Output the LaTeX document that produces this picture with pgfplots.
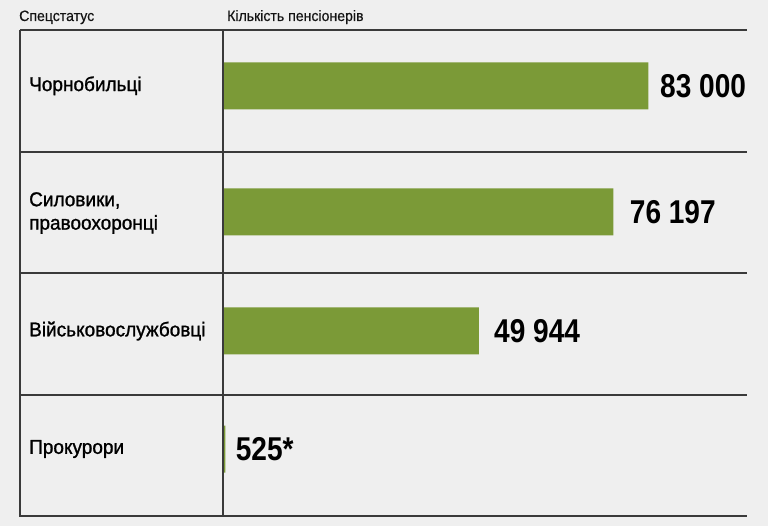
\documentclass[border=0pt]{standalone}
\usepackage{pgfplots}
\pgfplotsset{compat=1.18}
\usepackage{fontspec}
\setmainfont{Liberation Sans}
\newfontfamily\numfont[FakeStretch=0.85]{Liberation Sans Bold}
\newfontfamily\labfont[FakeStretch=0.95, FakeBold=1.1]{Liberation Sans}
\newfontfamily\hdfont[FakeStretch=0.94, FakeBold=0.5]{Liberation Sans}
\definecolor{bg}{HTML}{EFEFEF}
\definecolor{barc}{HTML}{7B9A37}
\definecolor{ln}{HTML}{3A3A3A}
\begin{document}
\begin{tikzpicture}
\fill[bg] (-20pt,-10.3pt) rectangle (748pt,515.7pt);
\begin{axis}[
  at={(0pt,0pt)}, anchor=south west,
  scale only axis, width=726.7pt, height=485.4pt,
  xmin=-39533, xmax=102196, ymin=30.3, ymax=515.7, y dir=reverse,
  hide axis, clip=false,
  xbar, bar width=47,
]
\addplot[fill=barc, draw=none] coordinates {
  (83000,85.8)
  (76197,211.8)
  (49944,331)
  (525,449)
};
\draw[ln, line width=1.6pt] (axis cs:-39533,30.3) -- (axis cs:102196,30.3);
\draw[ln, line width=1.6pt] (axis cs:-39533,152) -- (axis cs:102196,152);
\draw[ln, line width=1.6pt] (axis cs:-39533,273.3) -- (axis cs:102196,273.3);
\draw[ln, line width=1.6pt] (axis cs:-39533,394.7) -- (axis cs:102196,394.7);
\draw[ln, line width=1.6pt, line join=miter] (axis cs:-39533,30.3) -- (axis cs:-39533,515.7) -- (axis cs:102196,515.7);
\draw[ln, line width=1.6pt] (axis cs:0,30.3) -- (axis cs:0,515.7);
\begin{scope}[every node/.style={anchor=west, inner sep=0pt, text=black, font=\numfont\fontsize{33}{33}\selectfont}]
\node at (axis cs:85287,86.5) {83 000};
\node at (axis cs:79378,212.5) {76 197};
\node at (axis cs:52912,331.5) {49 944};
\node at (axis cs:2535,449.5) {525*};
\end{scope}
\begin{scope}[every node/.style={anchor=west, inner sep=0pt, align=left, text=black, font=\labfont\fontsize{20}{23.4}\selectfont}]
\node at (axis cs:-37780,85.8) {Чорнобильці};
\node at (axis cs:-37780,213) {Силовики,\\правоохоронці};
\node at (axis cs:-37780,331) {Військовослужбовці};
\node at (axis cs:-37780,449) {Прокурори};
\end{scope}
\node[anchor=base west, inner sep=0pt, text=black!92, font=\hdfont\fontsize{15}{15}\selectfont] at (axis cs:-39728,21) {Спецстатус};
\node[anchor=base west, inner sep=0pt, text=black!92, font=\hdfont\fontsize{15}{15}\selectfont] at (axis cs:839,21) {Кількість пенсіонерів};
\end{axis}
\end{tikzpicture}
\end{document}
